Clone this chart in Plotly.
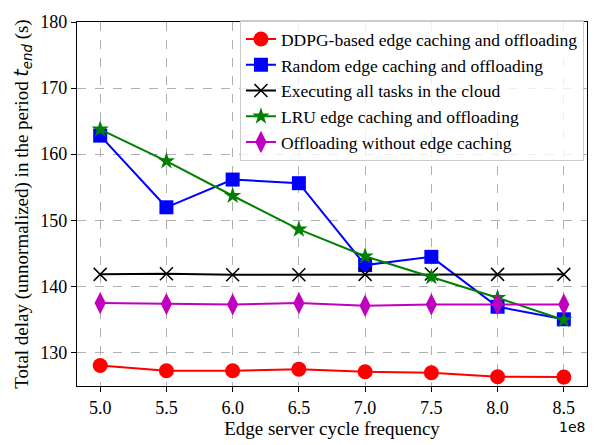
import plotly.graph_objects as go

freq = [5.0e8, 5.5e8, 6.0e8, 6.5e8, 7.0e8, 7.5e8, 8.0e8, 8.5e8]
tick_labels = ["5.0", "5.5", "6.0", "6.5", "7.0", "7.5", "8.0", "8.5"]

ddpg = [128.0, 127.2, 127.2, 127.45, 127.05, 126.9, 126.3, 126.25]
random_cache = [162.8, 151.95, 156.15, 155.6, 143.2, 144.45, 136.9, 135.0]
cloud = [141.8, 141.9, 141.75, 141.75, 141.8, 141.85, 141.8, 141.8]
lru = [163.75, 158.95, 153.7, 148.6, 144.55, 141.4, 138.25, 134.9]
no_cache = [137.45, 137.3, 137.25, 137.45, 137.05, 137.25, 137.3, 137.25]

names = [
    "DDPG-based edge caching and offloading",
    "Random edge caching and offloading",
    "Executing all tasks in the cloud",
    "LRU edge caching and offloading",
    "Offloading without edge caching",
]

SERIF = "Liberation Serif, Times New Roman, serif"

fig = go.Figure()
fig.add_trace(go.Scatter(x=freq, y=ddpg, name=names[0], mode="lines+markers",
                         line=dict(color="#ff0000", width=2),
                         marker=dict(symbol="circle", size=15, color="#ff0000")))
fig.add_trace(go.Scatter(x=freq, y=random_cache, name=names[1], mode="lines+markers",
                         line=dict(color="#0000ff", width=2),
                         marker=dict(symbol="square", size=14, color="#0000ff")))
fig.add_trace(go.Scatter(x=freq, y=cloud, name=names[2], mode="lines+markers",
                         line=dict(color="#000000", width=2),
                         marker=dict(symbol="x-thin", size=13, color="#000000",
                                     line=dict(color="#000000", width=1.5))))
fig.add_trace(go.Scatter(x=freq, y=lru, name=names[3], mode="lines+markers",
                         line=dict(color="#008000", width=2),
                         marker=dict(symbol="star", size=13, color="#008000")))
fig.add_trace(go.Scatter(x=freq, y=no_cache, name=names[4], mode="lines+markers",
                         line=dict(color="#bf00bf", width=2),
                         marker=dict(symbol="diamond-tall", size=16, color="#bf00bf")))

axis_common = dict(
    showline=True, linecolor="black", linewidth=1.2, mirror=True,
    ticks="outside", ticklen=5, tickwidth=1, tickcolor="black",
    showgrid=True, gridcolor="#b0b0b0", griddash="dash", gridwidth=1,
    zeroline=False,
    tickfont=dict(family=SERIF, size=18, color="black"),
)

fig.update_layout(
    width=600, height=445,
    margin=dict(l=77, r=12, t=12, b=53),
    paper_bgcolor="white", plot_bgcolor="white",
    showlegend=True,
    legend=dict(
        x=0.994, y=1.005, xanchor="right", yanchor="top",
        bgcolor="rgba(255,255,255,0.8)", bordercolor="#cccccc", borderwidth=1,
        font=dict(family=SERIF, size=17.5, color="black"),
        tracegroupgap=0, itemwidth=30,
    ),
    xaxis=dict(
        **axis_common,
        range=[4.825e8, 8.675e8],
        tickvals=freq, ticktext=tick_labels,
        title=dict(text="Edge server cycle frequency",
                   font=dict(family=SERIF, size=19, color="black"), standoff=2),
    ),
    yaxis=dict(
        **axis_common,
        range=[124.9, 180],
        tickvals=[130, 140, 150, 160, 170, 180],
        title=dict(text="Total delay (unnormalized) in the period "
                        "<span style='font-family:DejaVu Sans'><i>t<sub>end</sub></i></span> (s)",
                   font=dict(family=SERIF, size=19, color="black"), standoff=6),
    ),
)

fig.add_annotation(text="1e8", xref="paper", yref="paper", x=1.0, y=-0.085,
                   xanchor="right", yanchor="top", showarrow=False,
                   font=dict(family="DejaVu Sans", size=14, color="black"))

fig.write_html("out.html")
